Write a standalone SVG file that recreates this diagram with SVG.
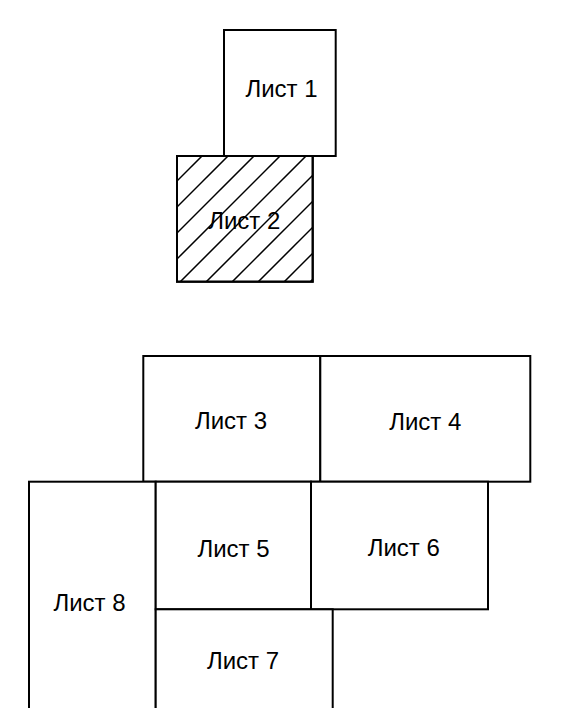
<svg xmlns="http://www.w3.org/2000/svg" width="561" height="708" viewBox="0 0 561 708">
<style>
.box{fill:#fff;stroke:#000;stroke-width:2}
.hatch{stroke:#000;stroke-width:1.5}
.lbl{font-family:"Liberation Sans",Arial,sans-serif;font-size:24px;fill:#000;text-anchor:middle}
</style>
<defs>
<clipPath id="clip2"><rect x="177" y="156" width="135.7" height="125.7"/></clipPath>
</defs>
<rect width="561" height="708" fill="#fff"/>
<g id="sheet1">
<rect class="box" x="224" y="30" width="111.7" height="126"/>
<text class="lbl" x="281.5" y="96.7">Лист 1</text>
</g>
<g id="sheet2">
<rect class="box" x="177" y="156" width="135.7" height="125.7"/>
<g clip-path="url(#clip2)" class="hatch">
<line x1="150" y1="208" x2="230" y2="128"/>
<line x1="150" y1="234" x2="256" y2="128"/>
<line x1="150" y1="260" x2="282" y2="128"/>
<line x1="150" y1="286" x2="308" y2="128"/>
<line x1="150" y1="312" x2="334" y2="128"/>
<line x1="150" y1="338" x2="360" y2="128"/>
<line x1="150" y1="364" x2="386" y2="128"/>
<line x1="150" y1="390" x2="412" y2="128"/>
<line x1="150" y1="416" x2="438" y2="128"/>
<line x1="150" y1="442" x2="464" y2="128"/>
</g>
<rect x="177" y="156" width="135.7" height="125.7" fill="none" stroke="#000" stroke-width="2"/>
<text class="lbl" x="244.3" y="229">Лист 2</text>
</g>
<g id="sheet3">
<rect class="box" x="143.3" y="356" width="177" height="125.7"/>
<text class="lbl" x="231" y="429.3">Лист 3</text>
</g>
<g id="sheet4">
<rect class="box" x="320.3" y="356" width="210" height="125.7"/>
<text class="lbl" x="425.3" y="430">Лист 4</text>
</g>
<g id="sheet8">
<rect class="box" x="29" y="481.7" width="126.7" height="240"/>
<text class="lbl" x="89.5" y="611">Лист 8</text>
</g>
<g id="sheet5">
<rect class="box" x="155.7" y="481.7" width="155.3" height="127.6"/>
<text class="lbl" x="233.5" y="556.7">Лист 5</text>
</g>
<g id="sheet6">
<rect class="box" x="311" y="481.7" width="177" height="127.6"/>
<text class="lbl" x="403.8" y="555.7">Лист 6</text>
</g>
<g id="sheet7">
<rect class="box" x="155.7" y="609.3" width="177" height="120"/>
<text class="lbl" x="243" y="669.3">Лист 7</text>
</g>
<g id="connectors"></g>
</svg>
